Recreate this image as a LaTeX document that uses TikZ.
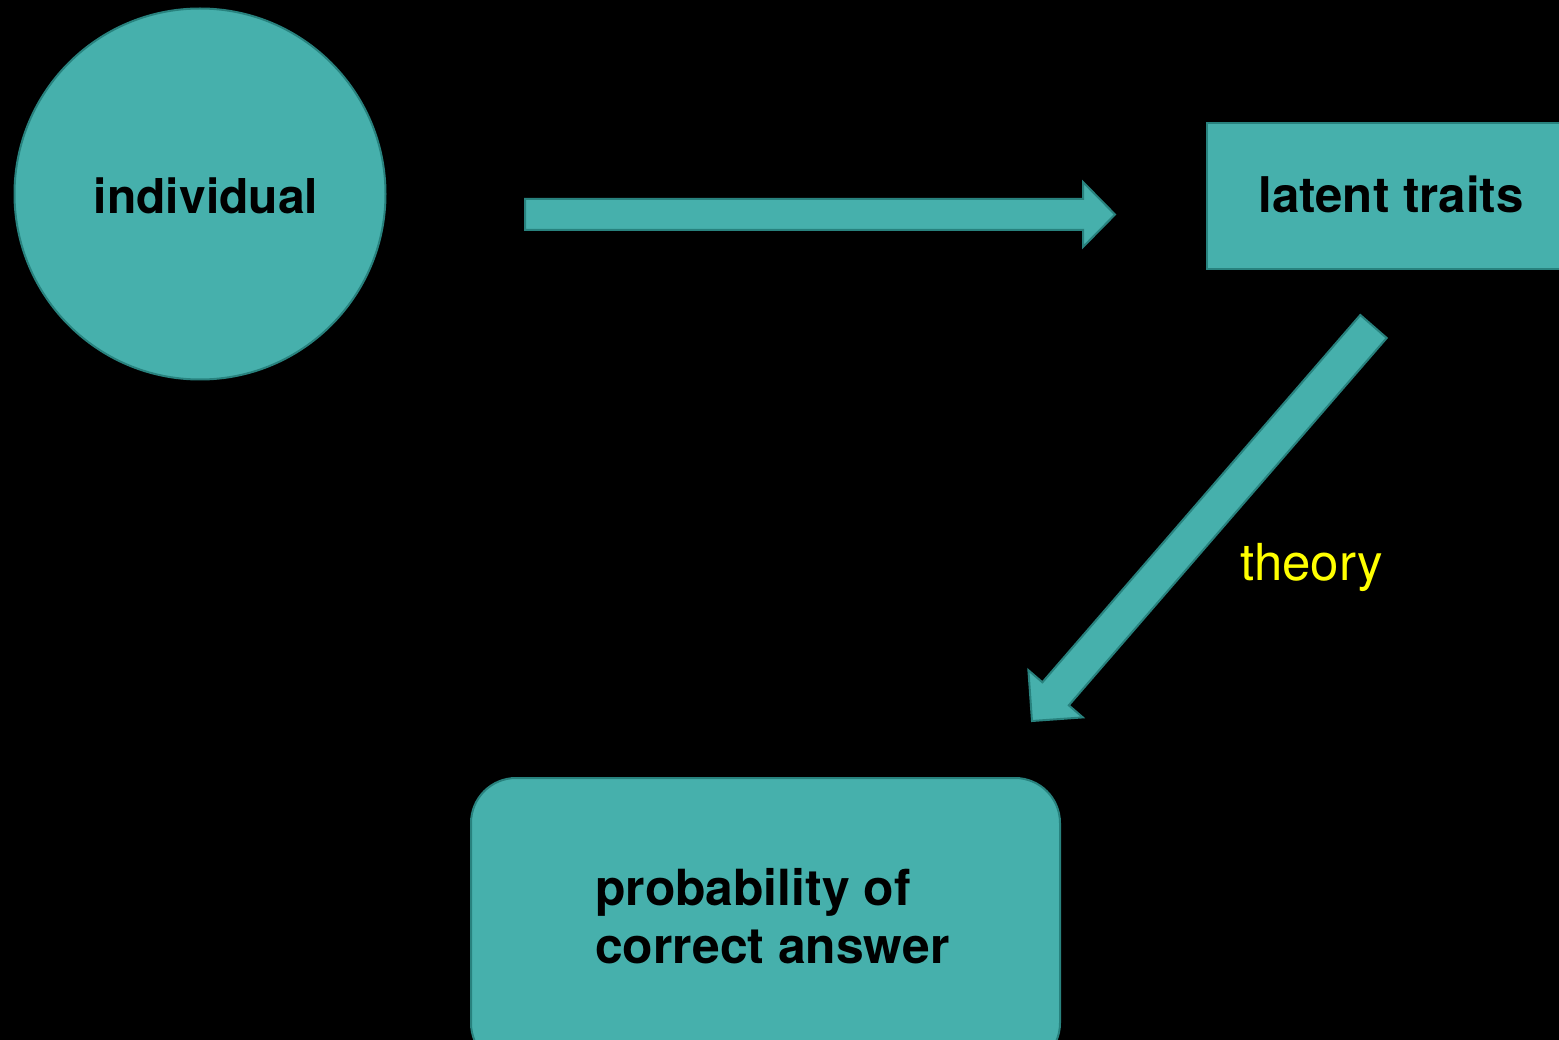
\documentclass[tikz,border=0pt]{standalone}
\usepackage{fontspec}
\setmainfont{TeX Gyre Heros}
\definecolor{tealfill}{RGB}{70,176,172}
\definecolor{tealline}{RGB}{40,130,126}
\definecolor{theoryyellow}{RGB}{255,255,0}
\begin{document}
\begin{tikzpicture}[x=1pt,y=-1pt,
  blob/.style={fill=tealfill,draw=tealline,line width=2pt},
  lbl/.style={font=\fontsize{48}{58}\selectfont\bfseries,text=black,inner sep=0pt},
]
\fill[black] (0,0) rectangle (1559,1040);
\useasboundingbox (0,0) rectangle (1559,1040);
\clip (0,0) rectangle (1559,1040);

% individual circle
\node[blob,circle,minimum size=371pt,inner sep=0pt] (individual) at (200,194) {};
\node[lbl,anchor=base] (individualtext) at (206,214) {individual};

% latent traits box
\node[blob,rectangle,minimum width=368pt,minimum height=146pt,inner sep=0pt] (latent) at (1391,196) {};
\node[lbl,font=\fontsize{49.2}{58}\selectfont\bfseries,anchor=base] (latenttext) at (1391,213) {latent traits};

% probability box
\node[blob,rectangle,rounded corners=45pt,minimum width=589pt,minimum height=290pt,inner sep=0pt] (prob) at (765.5,923) {};
\node[lbl,font=\fontsize{49.8}{58}\selectfont\bfseries,anchor=base west] (probtext1) at (595,905) {probability of};
\node[lbl,font=\fontsize{49.8}{58}\selectfont\bfseries,anchor=base west] (probtext2) at (595,963) {correct answer};

% horizontal block arrow
\draw[blob,line join=miter] (525,199) coordinate (h1) -- (1083,199) -- (1083,182) -- (1115,214.5) coordinate (htip)
  -- (1083,247) -- (1083,230) -- (525,230) -- cycle;

% diagonal block arrow
\draw[blob,line join=miter] (1360.3,315.0) coordinate (d1) -- (1042.4,682.3) -- (1028.4,670.2) -- (1032,721) coordinate (dtip)
  -- (1082.8,717.4) -- (1068.8,705.3) -- (1386.7,338.0) -- cycle;

% theory label
\node[font=\fontsize{51}{60}\selectfont,text=theoryyellow,inner sep=0pt,anchor=base west] (theory) at (1240,580) {theory};
\end{tikzpicture}
\end{document}
